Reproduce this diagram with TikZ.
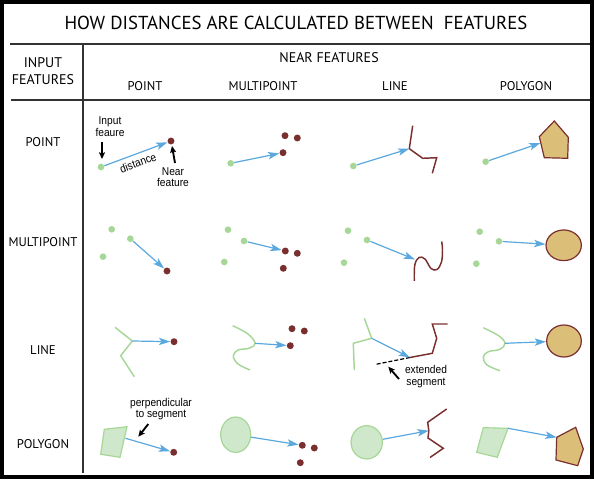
\documentclass[tikz,border=0pt]{standalone}
\usepackage{fontspec}
\setmainfont{PT Sans}
\newfontfamily\narrowfont{Liberation Sans}[FakeStretch=0.9]
\usetikzlibrary{arrows.meta,shapes.geometric}
\definecolor{ptgreen}{HTML}{A6D797}
\definecolor{lgfill}{HTML}{CFE8CB}
\definecolor{maroon}{HTML}{7A2E2E}
\definecolor{tan}{HTML}{DBBF78}
\definecolor{ablue}{HTML}{5BA8DF}
\definecolor{gridc}{HTML}{333333}
\tikzset{
  gdot/.style={circle, fill=ptgreen, inner sep=0pt, minimum size=5pt},
  mdot/.style={circle, fill=maroon, inner sep=0pt, minimum size=5.2pt},
  barrow/.style={draw=ablue, line width=0.9pt, -{Stealth[length=8.5pt,width=5.5pt,inset=2pt]}},
  karrow/.style={draw=black, line width=1.4pt, -{Stealth[length=5pt,width=4.5pt,inset=1pt]}},
  mline/.style={draw=maroon, line width=1.1pt},
  gline/.style={draw=ptgreen, line width=1.1pt},
  tanpoly/.style={draw=maroon, line width=0.9pt, fill=tan},
  gpoly/.style={draw=ptgreen, line width=0.9pt, fill=lgfill},
  tanell/.style={ellipse, draw=maroon, line width=0.9pt, fill=tan, inner sep=0pt},
  gell/.style={ellipse, draw=ptgreen, line width=0.9pt, fill=lgfill, inner sep=0pt},
  gridline/.style={draw=gridc, line width=1.1pt},
  hdr/.style={font=\fontsize{10.5}{12.5}\selectfont, align=center, inner sep=0pt},
  colhdr/.style={font=\fontsize{9.5}{11}\selectfont, inner sep=0pt},
  lbl/.style={font=\narrowfont\fontsize{8.5}{8.7}\selectfont, align=center, inner sep=0pt},
}
\begin{document}
\begin{tikzpicture}[x=0.75pt,y=-0.75pt]
\useasboundingbox (0,0) rectangle (594,481);
% frame and grid
\draw[line width=3pt] (2,1.7) rectangle (592,477.5);
\node[font=\fontsize{14.1}{16}\selectfont, inner sep=0pt] (title) at (296,23) {HOW DISTANCES ARE CALCULATED BETWEEN\ \ FEATURES};
\coordinate (h1a) at (10,44); \coordinate (h1b) at (590,44);
\coordinate (h2a) at (11,100); \coordinate (h2b) at (590,100);
\coordinate (v1a) at (83,44); \coordinate (v1b) at (83,473);
\draw[gridline] (h1a) -- (h1b);
\draw[gridline] (h2a) -- (h2b);
\draw[gridline] (v1a) -- (v1b);
% headers
\node[hdr] (inhdr) at (43,71) {INPUT\\FEATURES};
\node[hdr] (nearhdr) at (329,58) {NEAR FEATURES};
\node[colhdr] (c1) at (145,86) {POINT};
\node[colhdr] (c2) at (263,86) {MULTIPOINT};
\node[colhdr] (c3) at (395,86) {LINE};
\node[colhdr] (c4) at (526,86) {POLYGON};
\node[colhdr] (r1) at (43,142) {POINT};
\node[colhdr] (r2) at (43,242) {MULTIPOINT};
\node[colhdr] (r3) at (43,350) {LINE};
\node[colhdr] (r4) at (43,444) {POLYGON};

%% ROW 1: POINT
% point-point
\node[gdot] (a1g) at (101,167) {};
\node[mdot] (a1m) at (171,141) {};
\draw[barrow] (a1g) -- (a1m);
\node[lbl] (a1t1) at (110,126.5) {Input\\feaure};
\coordinate (a1k1s) at (102,142); \coordinate (a1k1e) at (102,159);
\draw[karrow] (a1k1s) -- (a1k1e);
\node[lbl, rotate=20] (a1d) at (138,163) {distance};
\coordinate (a1k2s) at (175,163); \coordinate (a1k2e) at (172,146);
\draw[karrow] (a1k2s) -- (a1k2e);
\node[lbl] (a1t2) at (173,177) {Near\\feature};
% point-multipoint
\node[gdot] (a2g) at (230.7,163.3) {};
\node[mdot] (a2m1) at (285,135.7) {};
\node[mdot] (a2m2) at (297.3,138) {};
\node[mdot] (a2m3) at (283,152.7) {};
\draw[barrow] (a2g) -- (a2m3);
% point-line
\node[gdot] (a3g) at (353.3,166) {};
\coordinate (a3v) at (409.3,148.7);
\draw[mline] (412.7,125.7) -- (a3v) -- (422.7,158.3) -- (436.7,157.7) -- (432.3,173.3);
\draw[barrow] (a3g) -- (a3v);
% point-polygon
\node[gdot] (a4g) at (485.7,161.7) {};
\draw[tanpoly] (554.3,121) -- (568.3,137.3) -- (567.7,158.3) -- (544.3,157.7) -- (539.3,136.7) -- cycle;
\coordinate (a4v) at (540.5,143);
\draw[barrow] (a4g) -- (a4v);

%% ROW 2: MULTIPOINT
% multipoint-point
\node[gdot] (b1g1) at (111.7,229.3) {};
\node[gdot] (b1g2) at (130.3,238.7) {};
\node[gdot] (b1g3) at (103,256.7) {};
\node[mdot] (b1m) at (167,271) {};
\draw[barrow] (b1g2) -- (b1m);
% multipoint-multipoint
\node[gdot] (b2g1) at (228,229.7) {};
\node[gdot] (b2g2) at (244,241) {};
\node[gdot] (b2g3) at (224.3,262) {};
\node[mdot] (b2m1) at (285.3,251) {};
\node[mdot] (b2m2) at (297.3,253.3) {};
\node[mdot] (b2m3) at (283.3,268.3) {};
\draw[barrow] (b2g2) -- (b2m1);
% multipoint-line
\node[gdot] (b3g1) at (348,230.7) {};
\node[gdot] (b3g2) at (367,240) {};
\node[gdot] (b3g3) at (344,262.7) {};
\draw[mline] plot[smooth, tension=0.6] coordinates {(414.3,281) (414.8,265) (419,257.5) (425,259) (431,268.5) (437,269.5) (441.5,262) (442.5,250) (441.7,241.5)};
\coordinate (b3v) at (415,259.5);
\draw[barrow] (b3g2) -- (b3v);
% multipoint-polygon
\node[gdot] (b4g1) at (479.7,231.7) {};
\node[gdot] (b4g2) at (499,241.3) {};
\node[gdot] (b4g3) at (476.3,263.7) {};
\node[tanell, minimum width=26.5pt, minimum height=23pt] (b4e) at (563.7,245.3) {};
\draw[barrow] (b4g2) -- (b4e);

%% ROW 3: LINE
% line-point
\coordinate (c1v) at (132.3,341);
\draw[gline] (115,327.3) -- (c1v) -- (120.7,355.7) -- (134.3,376.7);
\node[mdot] (c1m) at (174,341.7) {};
\draw[barrow] (c1v) -- (c1m);
% line-multipoint
\draw[gline] plot[smooth, tension=0.6] coordinates {(232.7,325.7) (248,334) (255,343.3) (249,348.3) (238,350) (233.3,356) (238,364) (250,370)};
\coordinate (c2v) at (255,343.3);
\node[mdot] (c2m1) at (290.3,345.7) {};
\node[mdot] (c2m2) at (292,328.7) {};
\node[mdot] (c2m3) at (304.3,331) {};
\draw[barrow] (c2v) -- (c2m1);
% line-line
\coordinate (c3v) at (371.7,338.3);
\draw[gline] (364.3,318.3) -- (c3v) -- (353.3,343.3) -- (354.3,370);
\coordinate (c3e) at (410,357.5);
\coordinate (c3x) at (376,364.3);
\draw[mline] (447.7,324) -- (432.3,324) -- (436.7,338.3) -- (432.3,353.3) -- (c3e);
\draw[black, line width=0.9pt, dashed, dash pattern=on 3pt off 1.5pt] (c3e) -- (c3x);
\draw[barrow] (c3v) -- (c3e);
\coordinate (c3ks) at (399,379); \coordinate (c3ke) at (388.3,366.7);
\draw[karrow] (c3ks) -- (c3ke);
\node[lbl] (c3t) at (426,376.5) {extended\\segment};
% line-polygon
\draw[gline] plot[smooth, tension=0.6] coordinates {(483.3,327.7) (499,336) (505,343.3) (500,349.3) (488.3,351.7) (483.3,357) (487,365) (500,370.7)};
\coordinate (c4v) at (505,343.3);
\node[tanell, minimum width=26pt, minimum height=24pt] (c4e) at (564,341) {};
\draw[barrow] (c4v) -- (c4e);

%% ROW 4: POLYGON
% polygon-point
\draw[gpoly] (104.3,429.3) -- (127,426.7) -- (120,457.3) -- (100.7,454.3) -- cycle;
\coordinate (d1v) at (125.5,438.3);
\node[mdot] (d1m) at (173.7,452.3) {};
\draw[barrow] (d1v) -- (d1m);
\coordinate (d1ks) at (148.3,424); \coordinate (d1ke) at (138.3,436.7);
\draw[karrow] (d1ks) -- (d1ke);
\node[lbl] (d1t) at (161,409) {perpendicular\\to segment};
% polygon-multipoint
\node[gell, minimum width=22.5pt, minimum height=26.5pt] (d2e) at (235.7,434.7) {};
\node[mdot] (d2m1) at (302.3,445.3) {};
\node[mdot] (d2m2) at (314.3,448) {};
\node[mdot] (d2m3) at (300.3,462.7) {};
\draw[barrow] (d2e) -- (d2m1);
% polygon-line
\node[gell, minimum width=23.5pt, minimum height=25pt] (d3e) at (366.7,442.3) {};
\coordinate (d3v) at (428.8,430.7);
\draw[mline] (446.7,409) -- (427.7,422.3) -- (d3v) -- (428,438) -- (443.3,448.3) -- (430,457.5);
\draw[barrow] (d3e) -- (d3v);
% polygon-polygon
\draw[gpoly] (483.3,427.7) -- (508,428.3) -- (497.3,457.3) -- (476.7,452.3) -- cycle;
\coordinate (d4s) at (508,428.3);
\draw[tanpoly] (556.7,437.3) -- (575.7,427.3) -- (583.3,449) -- (577.7,465.7) -- (556,460) -- cycle;
\coordinate (d4v) at (556.7,437.3);
\draw[barrow] (d4s) -- (d4v);
\end{tikzpicture}
\end{document}
